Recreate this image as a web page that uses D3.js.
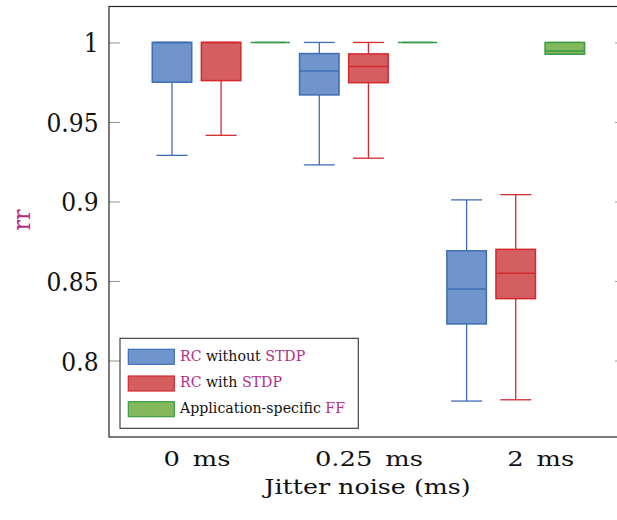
<!DOCTYPE html>
<html>
<head>
<meta charset="utf-8">
<script src="https://cdn.jsdelivr.net/npm/d3@7"></script>
<style>
  html, body { margin: 0; padding: 0; background: #fff; }
  svg { display: block; }
  text { font-family: "DejaVu Serif", serif; }
</style>
</head>
<body>
<svg id="chart" width="617" height="520"></svg>
<script>
// ---- data ----
const categories = ["0 ms", "0.25 ms", "2 ms"];
const seriesNames = ["RC without STDP", "RC with STDP", "Application-specific FF"];
// each entry: [lower whisker, q1, median, q3, upper whisker]
const rcWithoutSTDP = [
  [0.929, 0.975, 1.0, 1.0, 1.0],
  [0.923, 0.967, 0.982, 0.993, 1.0],
  [0.7745, 0.823, 0.845, 0.869, 0.901]
];
const rcWithSTDP = [
  [0.9416, 0.976, 1.0, 1.0, 1.0],
  [0.9272, 0.9747, 0.9848, 0.9928, 1.0],
  [0.7753, 0.8389, 0.8548, 0.8699, 0.9043]
];
const appSpecificFF = [
  [1.0, 1.0, 1.0, 1.0, 1.0],
  [1.0, 1.0, 1.0, 1.0, 1.0],
  [0.9926, 0.9926, 0.9946, 1.0, 1.0]
];
const yTicks = [0.8, 0.85, 0.9, 0.95, 1];
const yTickLabels = ["0.8", "0.85", "0.9", "0.95", "1"];
const xTickPositions = [1.5, 5, 8.5];

// ---- layout / style ----
const FONT = "'DejaVu Serif', serif";
const plot = { left: 109, right: 626, top: 6.5, bottom: 437 };
const styles = [
  { fill: "#7094cc", stroke: "#3f6db5" },
  { fill: "#d45e60", stroke: "#d4282f" },
  { fill: "#83b85b", stroke: "#3b9b47" }
];
const magenta = "#b32d86";
const boxW = 39.5, capW = 31;

const svg = d3.select("#chart");
const widthOf = sel => sel.node().getBBox().width;

const x = d3.scaleLinear().domain([-0.283, 10.246]).range([plot.left, plot.right]);
const y = d3.scaleLinear().domain([0.7519, 1.0226]).range([plot.bottom, plot.top]);

// ---- axes ----
const yAxisL = d3.axisLeft(y).tickValues(yTicks)
  .tickFormat((d, i) => yTickLabels[i]).tickSizeInner(-11).tickSizeOuter(0).tickPadding(0);
const gyl = svg.append("g").attr("transform", `translate(${plot.left},0)`).call(yAxisL);
gyl.select(".domain").remove();
gyl.selectAll(".tick line").attr("stroke", "#9a9a9a").attr("stroke-width", 1.1);
const yLabels = gyl.selectAll(".tick text").attr("font-size", 26).attr("fill", "#111")
  .attr("font-family", FONT).attr("x", 0).attr("dy", 9.5);
const ySx = 52 / widthOf(yLabels.filter((d, i) => i === 3));
yLabels.attr("transform", `translate(-10.5,0) scale(${ySx},1)`);

const yAxisR = d3.axisRight(y).tickValues(yTicks).tickFormat("").tickSizeInner(-11).tickSizeOuter(0);
const gyr = svg.append("g").attr("transform", `translate(${plot.right},0)`).call(yAxisR);
gyr.select(".domain").remove();
gyr.selectAll(".tick line").attr("stroke", "#9a9a9a").attr("stroke-width", 1.1);

const xAxis = d3.axisBottom(x).tickValues(xTickPositions)
  .tickFormat((d, i) => categories[i].replace(" ", "\u2002")).tickSize(0);
const gx = svg.append("g").attr("transform", `translate(0,${plot.bottom})`).call(xAxis);
gx.select(".domain").remove();
const xLabels = gx.selectAll(".tick text").attr("font-size", 20).attr("fill", "#111")
  .attr("font-family", FONT).attr("y", 29.5).attr("dy", 0);
const xSx = 108 / widthOf(xLabels.filter((d, i) => i === 1));
xLabels.attr("transform", `scale(${xSx},1)`);

// frame
svg.append("rect")
  .attr("x", plot.left).attr("y", plot.top)
  .attr("width", plot.right - plot.left).attr("height", plot.bottom - plot.top)
  .attr("fill", "none").attr("stroke", "#222").attr("stroke-width", 1.2);

// axis labels
const xTitle = svg.append("text")
  .attr("text-anchor", "middle").attr("font-size", 20).attr("fill", "#111")
  .text("Jitter noise (ms)");
const xtSx = 209 / widthOf(xTitle);
xTitle.attr("transform", `translate(${(plot.left + plot.right) / 2},493.5) scale(${xtSx},1)`);

const yTitle = svg.append("text")
  .attr("text-anchor", "middle").attr("font-size", 25).attr("fill", magenta)
  .text("rr");
const ytSx = 21 / widthOf(yTitle);
yTitle.attr("transform", `translate(29.5,220) rotate(-90) scale(${ytSx},1)`);

// ---- boxes ----
const allSeries = [rcWithoutSTDP, rcWithSTDP, appSpecificFF];
const boxes = [];
categories.forEach((c, ci) => {
  allSeries.forEach((s, si) => {
    boxes.push({ pos: ci * 3 + si + 1, v: s[ci], st: styles[si] });
  });
});

const gb = svg.append("g");
boxes.forEach(b => {
  const cx = x(b.pos);
  const [lw, q1, med, q3, uw] = b.v;
  const g = gb.append("g");
  g.append("line").attr("x1", cx).attr("x2", cx).attr("y1", y(q1)).attr("y2", y(lw))
    .attr("stroke", b.st.stroke).attr("stroke-width", 1.3);
  g.append("line").attr("x1", cx).attr("x2", cx).attr("y1", y(q3)).attr("y2", y(uw))
    .attr("stroke", b.st.stroke).attr("stroke-width", 1.3);
  g.append("line").attr("x1", cx - capW / 2).attr("x2", cx + capW / 2).attr("y1", y(lw)).attr("y2", y(lw))
    .attr("stroke", b.st.stroke).attr("stroke-width", 1.3);
  g.append("line").attr("x1", cx - capW / 2).attr("x2", cx + capW / 2).attr("y1", y(uw)).attr("y2", y(uw))
    .attr("stroke", b.st.stroke).attr("stroke-width", 1.3);
  g.append("rect").attr("x", cx - boxW / 2).attr("width", boxW)
    .attr("y", y(q3)).attr("height", Math.max(0, y(q1) - y(q3)))
    .attr("fill", b.st.fill).attr("stroke", b.st.stroke).attr("stroke-width", 1.5);
  g.append("line").attr("x1", cx - boxW / 2).attr("x2", cx + boxW / 2).attr("y1", y(med)).attr("y2", y(med))
    .attr("stroke", b.st.stroke).attr("stroke-width", 1.5);
});

// ---- legend ----
const lg = svg.append("g");
lg.append("rect").attr("x", 120).attr("y", 338.3).attr("width", 238.3).attr("height", 90)
  .attr("fill", "#fff").attr("stroke", "#333").attr("stroke-width", 1.1);
const legendParts = [
  [["RC", magenta], [" without ", "#111"], ["STDP", magenta]],
  [["RC", magenta], [" with ", "#111"], ["STDP", magenta]],
  [["Application-specific ", "#111"], ["FF", magenta]]
];
const legendRowTop = [349.3, 376, 401.7];
const legendBaseline = [360.7, 387.3, 413.3];
const legendTexts = [];
seriesNames.forEach((name, i) => {
  lg.append("rect").attr("x", 128.3).attr("y", legendRowTop[i]).attr("width", 46).attr("height", 15)
    .attr("fill", styles[i].fill).attr("stroke", styles[i].stroke).attr("stroke-width", 1.2);
  const t = lg.append("text").attr("font-size", 15).style("white-space", "pre");
  legendParts[i].forEach(([s, col]) => t.append("tspan").attr("fill", col).text(s));
  legendTexts.push(t);
});
const lSx = 166 / widthOf(legendTexts[2]);
legendTexts.forEach((t, i) => t.attr("transform", `translate(180,${legendBaseline[i]}) scale(${lSx},1)`));
</script>
</body>
</html>
